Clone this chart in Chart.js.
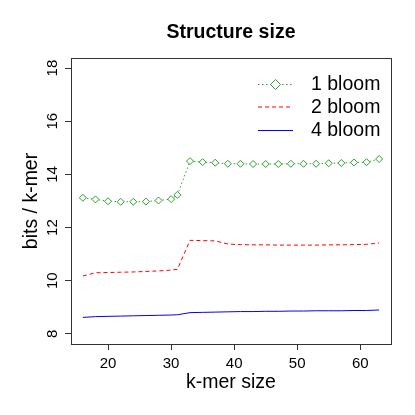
<!DOCTYPE html>
<html>
<head>
<meta charset="utf-8">
<script src="https://cdn.jsdelivr.net/npm/chart.js@4.4.1/dist/chart.umd.min.js"></script>
<style>
  html, body { margin: 0; padding: 0; background: #fff; }
  #wrap { width: 415px; height: 415px; }
</style>
</head>
<body>
<div id="wrap"><canvas id="chart" width="415" height="415"></canvas></div>
<script>
// datos
const kmerSize = [16, 18, 20, 22, 24, 26, 28, 30, 31, 33, 35, 37, 39, 41, 43, 45, 47, 49, 51, 53, 55, 57, 59, 61, 63];
const bloom1 = [13.12, 13.06, 12.99, 12.97, 12.97, 12.98, 13.02, 13.07, 13.23, 14.50, 14.46, 14.44, 14.40, 14.40, 14.39, 14.39, 14.39, 14.40, 14.40, 14.40, 14.42, 14.43, 14.45, 14.46, 14.58];
const bloom2 = [10.18, 10.30, 10.31, 10.32, 10.33, 10.35, 10.37, 10.40, 10.43, 11.52, 11.51, 11.50, 11.38, 11.36, 11.35, 11.35, 11.34, 11.34, 11.34, 11.34, 11.35, 11.35, 11.36, 11.37, 11.42];
const bloom4 = [8.62, 8.65, 8.66, 8.67, 8.68, 8.69, 8.70, 8.71, 8.72, 8.80, 8.81, 8.82, 8.83, 8.84, 8.84, 8.85, 8.85, 8.86, 8.86, 8.87, 8.87, 8.87, 8.88, 8.88, 8.90];
const seriesNames = ['1 bloom', '2 bloom', '4 bloom'];
const xTicks = [20, 30, 40, 50, 60];
const yTicks = [8, 10, 12, 14, 16, 18];

const FONT = "'Liberation Sans', Arial, Helvetica, sans-serif";
const GREEN = '#2e9e2e';
const RED = '#ff0000';
const BLUE = '#0000ff';

const toPoints = vals => vals.map((v, i) => ({ x: kmerSize[i], y: v }));

// caja, etiquetas del eje y y leyenda al estilo R
const rStyle = {
    id: 'rStyle',
    afterDraw(chart) {
        const { ctx, chartArea: a, scales } = chart;
        ctx.save();
        ctx.strokeStyle = '#333';
        ctx.lineWidth = 1;
        ctx.strokeRect(Math.round(a.left) + 0.5, Math.round(a.top) + 0.5,
            Math.round(a.right - a.left), Math.round(a.bottom - a.top));

        // etiquetas del eje y (rotadas)
        ctx.fillStyle = '#000';
        ctx.font = '15px ' + FONT;
        ctx.textAlign = 'center';
        ctx.textBaseline = 'middle';
        yTicks.forEach(v => {
            const y = scales.y.getPixelForValue(v);
            ctx.save();
            ctx.translate(53, y);
            ctx.rotate(-Math.PI / 2);
            ctx.fillText(String(v), 0, 0);
            ctx.restore();
        });

        // leyenda
        const items = [
            { color: GREEN, dash: [1.5, 2.5], point: true, off: 0.5 },
            { color: RED, dash: [4, 3], off: 0 },
            { color: BLUE, dash: [], off: 0.5 }
        ];
        const rows = [84, 107, 130];
        ctx.font = '19.5px ' + FONT;
        ctx.textAlign = 'left';
        items.forEach((it, i) => {
            const y = rows[i] + it.off;
            ctx.save();
            ctx.strokeStyle = it.color;
            ctx.lineWidth = 1.2;
            ctx.setLineDash(it.dash);
            ctx.beginPath();
            ctx.moveTo(258, y);
            ctx.lineTo(293, y);
            ctx.stroke();
            ctx.setLineDash([]);
            if (it.point) {
                const cx = 275.5, r = 5;
                ctx.lineWidth = 1;
                ctx.fillStyle = '#fff';
                ctx.beginPath();
                ctx.moveTo(cx, y - r); ctx.lineTo(cx + r, y); ctx.lineTo(cx, y + r); ctx.lineTo(cx - r, y); ctx.closePath();
                ctx.fill();
                ctx.stroke();
            }
            ctx.restore();
            ctx.fillStyle = '#000';
            ctx.fillText(seriesNames[i], 311, rows[i] + 1);
        });
        ctx.restore();
    }
};

new Chart(document.getElementById('chart'), {
    type: 'line',
    data: {
        datasets: [
            {
                label: seriesNames[0],
                data: toPoints(bloom1),
                borderColor: GREEN,
                borderWidth: 1,
                borderDash: [1.5, 2.5],
                pointStyle: 'rectRot',
                pointRadius: 3.5,
                pointBorderColor: GREEN,
                pointBackgroundColor: '#fff',
                pointBorderWidth: 1,
                tension: 0
            },
            {
                label: seriesNames[1],
                data: toPoints(bloom2),
                borderColor: RED,
                borderWidth: 1,
                borderDash: [4, 3],
                pointRadius: 0,
                tension: 0
            },
            {
                label: seriesNames[2],
                data: toPoints(bloom4),
                borderColor: BLUE,
                borderWidth: 1,
                pointRadius: 0,
                tension: 0
            }
        ]
    },
    options: {
        responsive: false,
        animation: false,
        devicePixelRatio: 1,
        layout: { padding: { left: 0, right: 24, top: 0, bottom: 0 } },
        plugins: {
            legend: { display: false },
            tooltip: { enabled: false },
            title: {
                display: true,
                text: 'Structure size',
                fullSize: false,
                color: '#000',
                font: { family: FONT, size: 19.5, weight: 'bold' },
                padding: { top: 20.5, bottom: 14.1 }
            }
        },
        scales: {
            x: {
                type: 'linear',
                min: 14.12,
                max: 64.88,
                afterBuildTicks: s => { s.ticks = xTicks.map(v => ({ value: v })); },
                afterFit: s => { s.height = 71; },
                grid: { drawOnChartArea: false, drawTicks: true, tickLength: 6, color: '#333' },
                border: { display: false },
                ticks: {
                    color: '#000',
                    font: { family: FONT, size: 15 },
                    padding: 5,
                    maxRotation: 0,
                    autoSkip: false
                },
                title: {
                    display: true,
                    text: 'k-mer size',
                    color: '#000',
                    font: { family: FONT, size: 19.5 },
                    padding: { top: 0, bottom: 20.5 }
                }
            },
            y: {
                type: 'linear',
                min: 7.62,
                max: 18.38,
                afterBuildTicks: s => { s.ticks = yTicks.map(v => ({ value: v })); },
                afterFit: s => { s.width = 71; },
                grid: { drawOnChartArea: false, drawTicks: true, tickLength: 6, color: '#333' },
                border: { display: false },
                ticks: { display: false },
                title: {
                    display: true,
                    text: 'bits / k-mer',
                    color: '#000',
                    font: { family: FONT, size: 19.5 },
                    padding: { top: 20.3, bottom: 0 }
                }
            }
        }
    },
    plugins: [rStyle]
});
</script>
</body>
</html>
